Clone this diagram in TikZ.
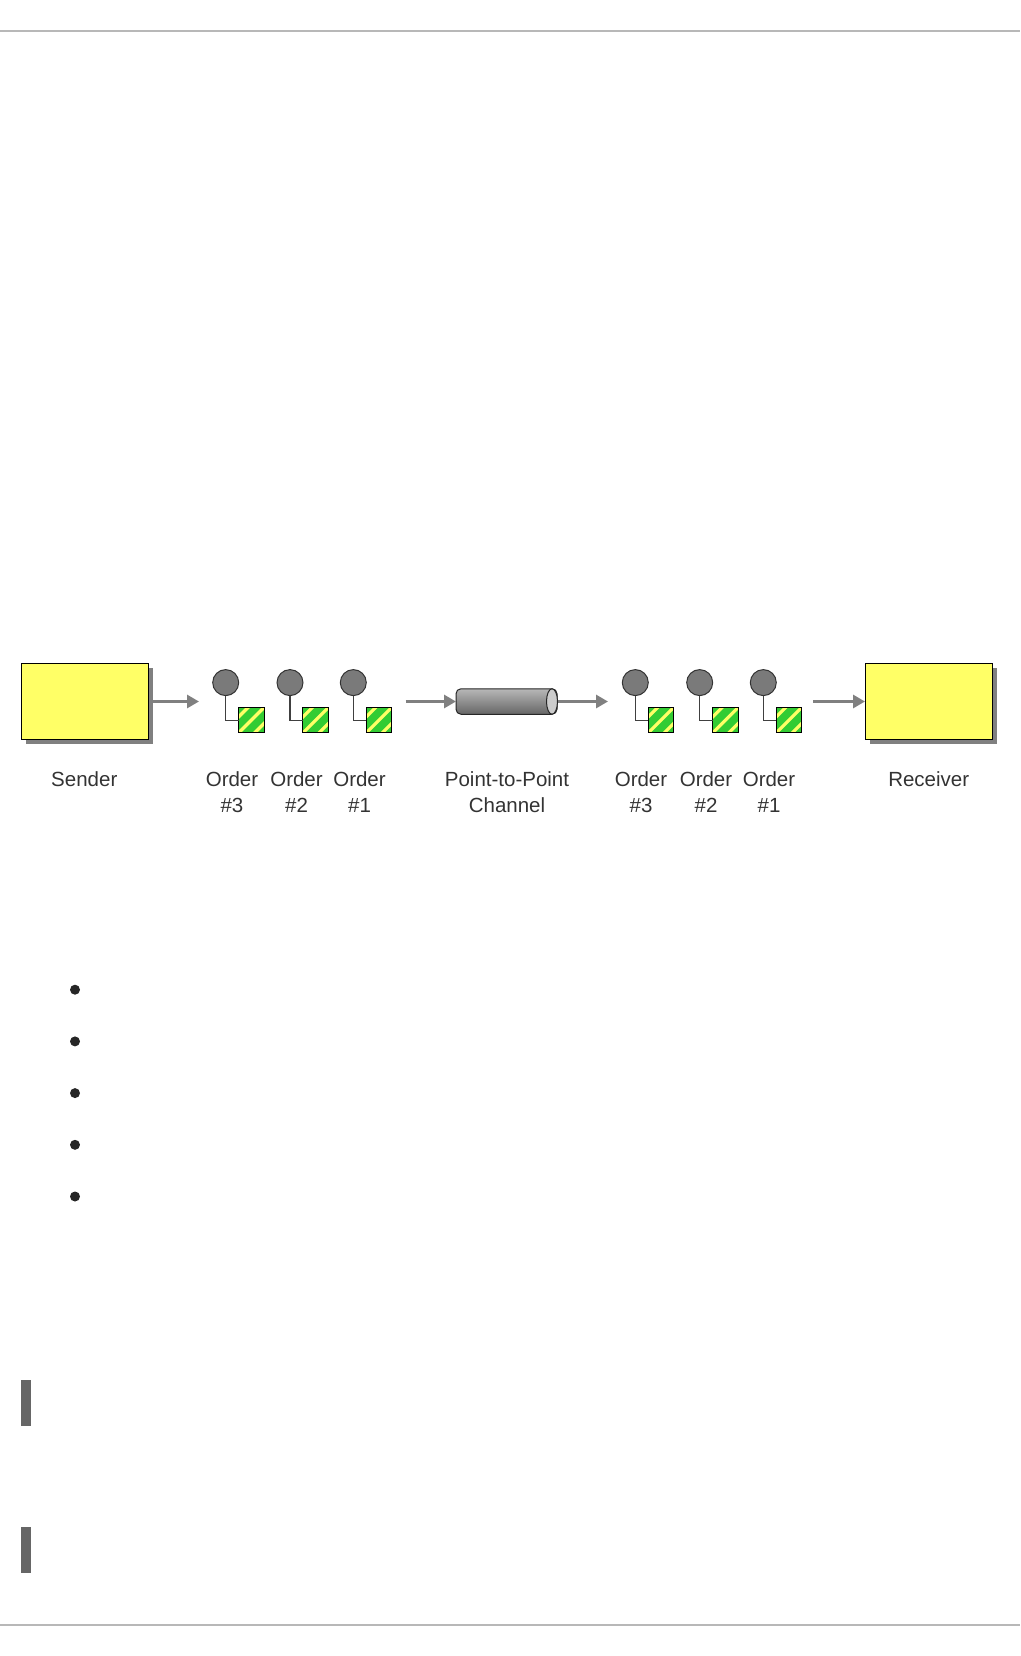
\documentclass[tikz,border=0pt]{standalone}
\usepackage{fontspec}
\setmainfont{Liberation Sans}
\usepackage{tikz}
\usetikzlibrary{arrows.meta, shadows, shapes.geometric}

\definecolor{boxyellow}{HTML}{FFFF66}
\definecolor{stripegreen}{HTML}{33CC33}
\definecolor{flowgray}{HTML}{808080}
\definecolor{labelgray}{HTML}{333333}

\begin{document}
\begin{tikzpicture}[
  x=1pt, y=-1pt,
  >={Triangle[length=12pt, width=13pt]},
  endpoint/.style={draw=black, line width=1pt, fill=boxyellow, minimum width=127pt,
    minimum height=75.5pt, outer sep=0pt,
    drop shadow={shadow xshift=4.5pt, shadow yshift=-4.5pt, fill=flowgray, opacity=1}},
  flow/.style={->, draw=flowgray, line width=3pt},
  msgbody/.style={circle, draw=black!80, line width=1pt, fill=black!52, minimum size=26pt,
    inner sep=0pt, outer sep=0pt},
  msgdata/.style={draw=black, line width=1pt, fill=stripegreen, minimum size=25.5pt,
    inner sep=0pt, outer sep=0pt,
    path picture={
      \foreach \d in {-16, 0, 16} {
        \draw[boxyellow, line width=3.2pt]
          ([xshift=\d*1pt-20pt, yshift=-20pt]path picture bounding box.center) --
          ([xshift=\d*1pt+20pt, yshift=20pt]path picture bounding box.center);
      }
    }},
  msglink/.style={draw=black!75, line width=1.4pt},
  lbl/.style={font=\fontsize{20.5}{25.3}\selectfont, text=labelgray, align=center,
    anchor=north, inner sep=0pt},
  rulebar/.style={fill=black!60},
  pagerule/.style={draw=black!28, line width=2pt},
]
\useasboundingbox (0, 0) rectangle (1020, 1656);

% --- Page rules ---
\draw[pagerule] (0, 31) -- (1020, 31);
\draw[pagerule] (0, 1625) -- (1020, 1625);

% --- Sender and receiver ---
\node[endpoint] (sender) at (85, 701.5) {};
\node[endpoint] (receiver) at (928.5, 701.5) {};

% --- Channel ---
\node[rounded corners=5pt, draw=black!85, line width=1pt, top color=black!28,
  bottom color=black!60, minimum width=101pt, minimum height=25.5pt, inner sep=0pt,
  outer sep=0pt] (channel) at (506.5, 701.5) {};
\node[ellipse, draw=black!85, line width=1pt, fill=black!20, minimum width=11pt,
  minimum height=25.5pt, inner sep=0pt, outer sep=0pt] (channelend) at (552, 701.5) {};

% --- Arrows ---
\coordinate (senderout) at (152, 701.5);
\coordinate (senderhead) at (199, 701.5);
\coordinate (channelin) at (405.5, 701.5);
\coordinate (channelhead) at (608, 701.5);
\coordinate (receiverin) at (813, 701.5);
\draw[flow] (senderout) -- (senderhead);
\draw[flow] (channelin) -- (channel.west);
\draw[flow] (channelend.east) -- (channelhead);
\draw[flow] (receiverin) -- (receiver.west);

% --- Messages ---
\foreach \m/\x in {a/225.7, b/290, c/353.3, d/635.3, e/699.7, f/763.3} {
  \node[msgbody] (body\m) at (\x, 682.6) {};
  \node[msgdata] (data\m) at (\x+25.6, 720.2) {};
  \draw[msglink] (body\m.south) |- (data\m.west);
}

% --- Labels ---
\node[lbl] (senderlbl) at (84.3, 771.7) {Sender};
\node[lbl] (receiverlbl) at (928.7, 771.7) {Receiver};
\node[lbl] (channellbl) at (507, 771.7) {Point-to-Point\\Channel};
\foreach \m/\x/\n in {a/232/3, b/296.5/2, c/359.5/1, d/641/3, e/706/2, f/769/1} {
  \node[lbl] (lbl\m) at (\x, 771.7) {Order\\\#\n};
}

% --- Bullets ---
\foreach \y in {989.7, 1041.4, 1093.1, 1144.8, 1196.5} {
  \fill[black!85] (75, \y) circle (5pt);
}

% --- Side bars ---
\fill[rulebar] (21, 1380) rectangle (31, 1426);
\fill[rulebar] (21, 1527) rectangle (31, 1573);

\end{tikzpicture}
\end{document}
